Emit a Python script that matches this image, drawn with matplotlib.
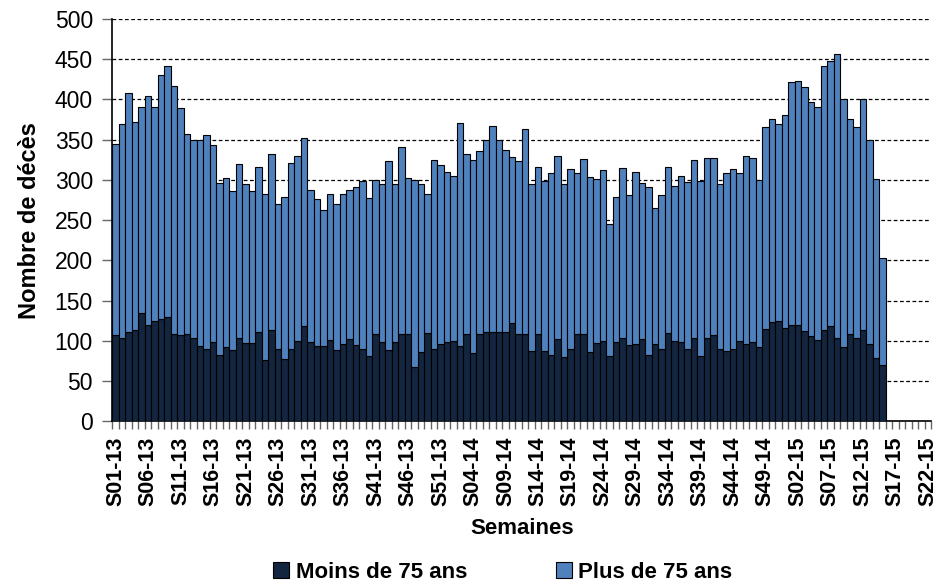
import numpy as np
import matplotlib.pyplot as plt

plt.rcParams['font.family'] = ['Liberation Sans', 'DejaVu Sans']

# weekly deaths, S01-13 .. S15-15 (weeks after S15-15 have no data yet)
moins_75 = [107, 103, 111, 114, 135, 120, 124, 127, 129, 108,
            107, 108, 103, 93, 90, 98, 82, 92, 88, 103,
            97, 97, 111, 76, 113, 90, 77, 90, 100, 118,
            99, 93, 93, 101, 88, 96, 102, 95, 90, 81,
            108, 98, 88, 99, 108, 108, 67, 86, 110, 90,
            96, 99, 100, 93, 108, 85, 108, 111, 111, 111,
            111, 122, 108, 108, 87, 108, 87, 82, 102, 80,
            90, 108, 108, 86, 97, 100, 81, 99, 103, 95,
            96, 102, 82, 96, 90, 110, 100, 98, 90, 103,
            81, 103, 107, 90, 87, 90, 100, 96, 99, 92,
            115, 123, 124, 116, 120, 120, 112, 106, 101, 113,
            118, 104, 92, 108, 103, 114, 96, 78, 70]
total = [345, 369, 408, 372, 390, 404, 390, 430, 442, 417,
         389, 357, 350, 350, 356, 343, 296, 302, 286, 320,
         295, 286, 316, 282, 332, 270, 279, 321, 330, 352,
         288, 276, 263, 283, 270, 283, 288, 291, 298, 277,
         300, 295, 324, 295, 341, 302, 300, 295, 283, 325,
         318, 310, 305, 371, 332, 325, 336, 349, 367, 350,
         337, 328, 324, 363, 295, 316, 298, 308, 330, 295,
         313, 308, 326, 304, 301, 312, 245, 279, 315, 281,
         310, 296, 291, 265, 281, 316, 293, 305, 297, 325,
         299, 327, 327, 295, 308, 314, 308, 330, 327, 300,
         366, 376, 370, 381, 422, 423, 415, 397, 390, 442,
         448, 456, 400, 376, 366, 400, 350, 301, 203]
plus_75 = [t - m for t, m in zip(total, moins_75)]

weeks = ['S%02d-%02d' % (w, 13) for w in range(1, 53)] + \
        ['S%02d-%02d' % (w, 14) for w in range(1, 53)] + \
        ['S%02d-%02d' % (w, 15) for w in range(1, 23)]

dark = '#13253f'
light = '#4f81bd'

fig = plt.figure(figsize=(9.4, 5.85), dpi=100)
ax = fig.add_axes([0.1195, 0.280, 0.871, 0.6875])

x = np.arange(len(moins_75))
ax.bar(x, moins_75, width=1.0, color=dark, edgecolor='black', linewidth=0.8,
       label='Moins de 75 ans', zorder=3)
ax.bar(x, plus_75, width=1.0, bottom=moins_75, color=light, edgecolor='black',
       linewidth=0.8, label='Plus de 75 ans', zorder=3)

ax.set_xlim(-0.5, len(weeks) - 0.5)
ax.set_ylim(0, 500)
ax.set_yticks(range(0, 501, 50))
ax.yaxis.grid(True, color='black', linestyle=(0, (3, 2)), linewidth=0.9)
ax.set_axisbelow(True)

ax.set_xticks(range(0, len(weeks), 5))
ax.set_xticklabels(weeks[::5], rotation=90, fontsize=15.5, fontweight='bold')
ax.set_xticks(np.arange(-0.5, len(weeks), 1), minor=True)
ax.tick_params(axis='x', which='major', length=0, pad=11)
ax.tick_params(axis='x', which='minor', length=6, width=1, color='#666666')
ax.tick_params(axis='y', length=7, width=1, color='#666666', labelsize=16.5, pad=7)

for s in ['top', 'right']:
    ax.spines[s].set_visible(False)
ax.spines['left'].set_linewidth(1.2)
ax.spines['bottom'].set_linewidth(1.2)

ax.set_ylabel('Nombre de décès', fontsize=17, fontweight='bold', labelpad=10)
ax.set_xlabel('Semaines', fontsize=16, fontweight='bold', labelpad=9)

fig.legend(loc='center', bbox_to_anchor=(0.535, 0.022), ncol=2,
           frameon=False, prop={'size': 16, 'weight': 'bold'},
           handlelength=0.7, handleheight=0.7, handletextpad=0.3,
           columnspacing=4.0)

fig.savefig('out.png', dpi=100)
